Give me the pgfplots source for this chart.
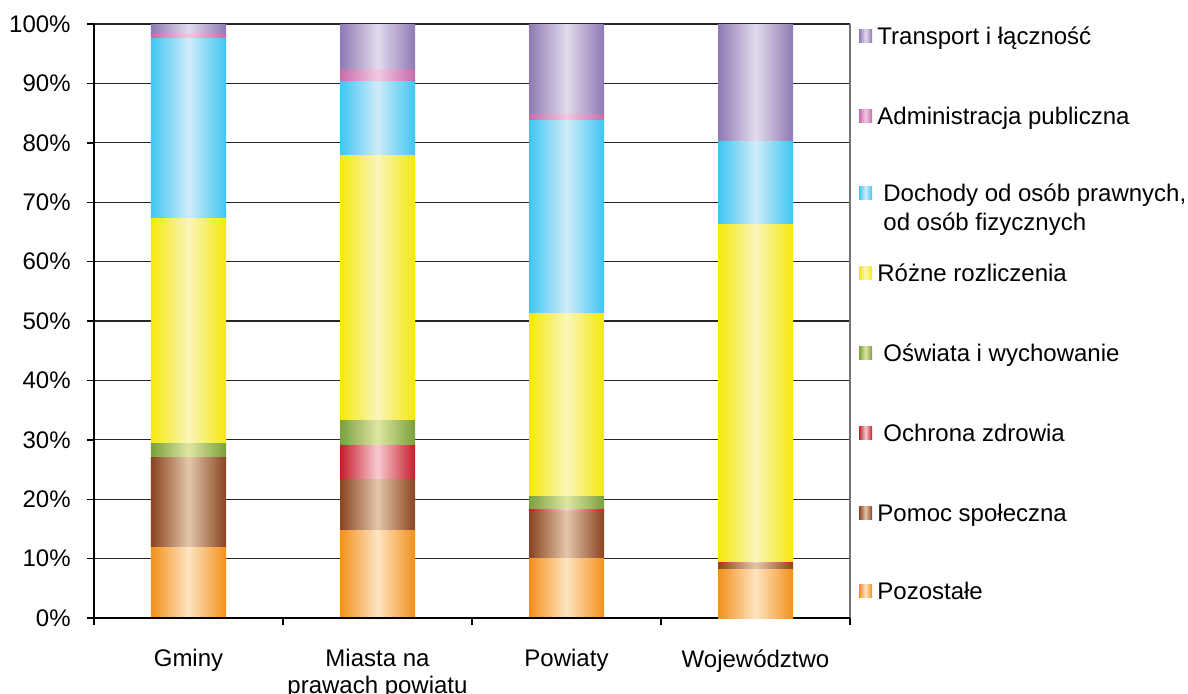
\documentclass[border=0pt]{standalone}
\usepackage{fontspec}
\setmainfont{Liberation Sans}
\usepackage{pgfplots}
\pgfplotsset{compat=1.18}
\definecolor{cTrE}{HTML}{8E7AB4}\definecolor{cTrM}{HTML}{E2DAEC}
\definecolor{cAdE}{HTML}{C66CAA}\definecolor{cAdM}{HTML}{F2C8E0}
\definecolor{cDoE}{HTML}{3EC6F2}\definecolor{cDoM}{HTML}{D0ECF9}
\definecolor{cRoE}{HTML}{F5E90A}\definecolor{cRoM}{HTML}{FAF5BA}
\definecolor{cOsE}{HTML}{7BA03C}\definecolor{cOsM}{HTML}{DEE6A2}
\definecolor{cOcE}{HTML}{C41E2A}\definecolor{cOcM}{HTML}{F8CAD2}
\definecolor{cPoE}{HTML}{8A4420}\definecolor{cPoM}{HTML}{E4C6AA}
\definecolor{cPzE}{HTML}{F39019}\definecolor{cPzM}{HTML}{FDE4C2}
\pgfplotsset{
  frame/.style={scale only axis, width=378pt, height=297pt,
    xmin=-0.5, xmax=3.5, ymin=0, ymax=100, clip=false},
  bars/.style={frame, hide axis, ybar stacked, bar width=37.5pt},
  sh/.style={draw=none, left color=#1E, right color=#1E, middle color=#1M},
}
\begin{document}
\fontsize{12}{14}\selectfont
\begin{tikzpicture}
% frame: grid, ticks, labels
\begin{axis}[frame,
  axis x line*=bottom, axis y line*=left,
  axis line style={black, line width=0.7pt},
  xtick={0,1,2,3},
  xticklabels={Gminy, {Miasta na\\prawach powiatu}, Powiaty, Województwo},
  xticklabel style={align=center, font=\fontsize{12}{13.5}\selectfont, yshift=-8pt},
  major x tick style={draw=none},
  minor xtick={-0.5,0.5,1.5,2.5,3.5},
  minor x tick style={black, line width=0.7pt},
  tick align=outside, major tick length=3.5pt, minor tick length=3.5pt,
  ytick={0,10,...,100},
  yticklabels={0\%,10\%,20\%,30\%,40\%,50\%,60\%,70\%,80\%,90\%,100\%},
  yticklabel style={font=\fontsize{12}{14}\selectfont, xshift=-4pt},
  y tick style={black, line width=0.7pt},
  ymajorgrids, major grid style={black!85, line width=0.6pt},
]
\addplot[draw=none] coordinates {(0,0)};
\coordinate (O) at (rel axis cs:0,0);
\draw[black!55, line width=0.7pt] (rel axis cs:1,0) -- (rel axis cs:1,1);
\end{axis}
% Gminy
\begin{axis}[bars]
\addplot[sh=cPz] coordinates {(0,11.8)};
\addplot[sh=cPo] coordinates {(0,15.2)};
\addplot[sh=cOc] coordinates {(0,0.1)};
\addplot[sh=cOs] coordinates {(0,2.2)};
\addplot[sh=cRo] coordinates {(0,38.0)};
\addplot[sh=cDo] coordinates {(0,30.2)};
\addplot[sh=cAd] coordinates {(0,0.7)};
\addplot[sh=cTr] coordinates {(0,1.8)};
\end{axis}
% Miasta na prawach powiatu
\begin{axis}[bars]
\addplot[sh=cPz] coordinates {(1,14.8)};
\addplot[sh=cPo] coordinates {(1,8.6)};
\addplot[sh=cOc] coordinates {(1,5.6)};
\addplot[sh=cOs] coordinates {(1,4.3)};
\addplot[sh=cRo] coordinates {(1,44.6)};
\addplot[sh=cDo] coordinates {(1,12.5)};
\addplot[sh=cAd] coordinates {(1,1.9)};
\addplot[sh=cTr] coordinates {(1,7.7)};
\end{axis}
% Powiaty
\begin{axis}[bars]
\addplot[sh=cPz] coordinates {(2,10.0)};
\addplot[sh=cPo] coordinates {(2,7.9)};
\addplot[sh=cOc] coordinates {(2,0.3)};
\addplot[sh=cOs] coordinates {(2,2.3)};
\addplot[sh=cRo] coordinates {(2,30.7)};
\addplot[sh=cDo] coordinates {(2,32.6)};
\addplot[sh=cAd] coordinates {(2,1.0)};
\addplot[sh=cTr] coordinates {(2,15.2)};
\end{axis}
% Wojewodztwo
\begin{axis}[bars]
\addplot[sh=cPz] coordinates {(3,8.2)};
\addplot[sh=cPo] coordinates {(3,1.0)};
\addplot[sh=cOc] coordinates {(3,0.1)};
\addplot[sh=cRo] coordinates {(3,56.9)};
\addplot[sh=cDo] coordinates {(3,14.1)};
\addplot[sh=cTr] coordinates {(3,19.7)};
\draw[black, line width=0.7pt] (rel axis cs:0,0) -- (rel axis cs:1,0);
\end{axis}
% legend
\begin{scope}[shift={(O)}]
\foreach \y/\c/\t/\dx in {
  291/cTr/{Transport i łączność}/0,
  251/cAd/{Administracja publiczna}/0,
  212.5/cDo/{Dochody od osób prawnych,}/3,
  172.5/cRo/{Różne rozliczenia}/0,
  132.5/cOs/{Oświata i wychowanie}/3,
  92.5/cOc/{Ochrona zdrowia}/3,
  52.5/cPo/{Pomoc społeczna}/0,
  13.5/cPz/{Pozostałe}/0}{
  \shade[left color=\c E, right color=\c E, middle color=\c M] (382.5pt,\y pt-3.25pt) rectangle (389pt,\y pt+3.25pt);
  \node[anchor=west, inner sep=0pt] at (391.5pt+\dx pt,\y pt-1.5pt) {\strut\t};
}
\node[anchor=west, inner sep=0pt] at (394.5pt,196.5pt) {\strut od osób fizycznych};
\end{scope}
\pgfresetboundingbox
\path[use as bounding box] ([shift={(-47pt,-37.5pt)}]O) rectangle ([shift={(547pt,309pt)}]O);
\end{tikzpicture}
\end{document}
